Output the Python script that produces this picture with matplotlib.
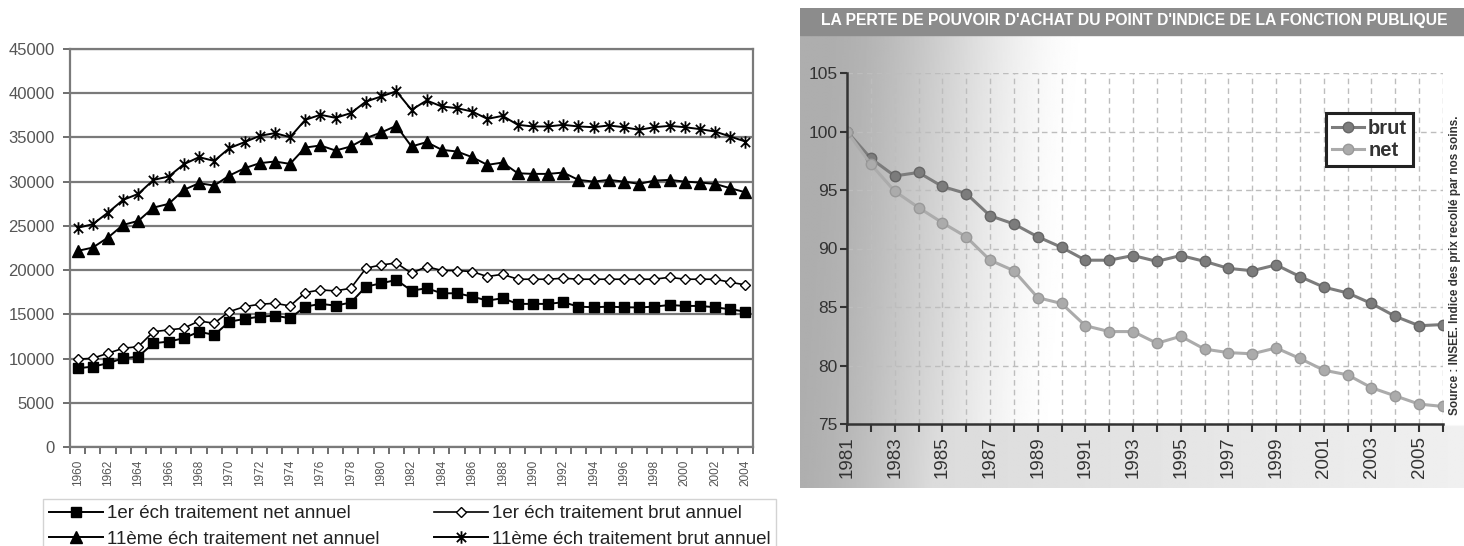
import numpy as np
import matplotlib
matplotlib.use("Agg")
import matplotlib.pyplot as plt
from matplotlib.path import Path

# ---- left chart data: annual salary (EUR) by year ----
years_left = list(range(1960, 2005))
net_1er = [8900, 9090, 9470, 10030, 10220, 11730, 11920, 12300, 13040, 12670,
           14170, 14480, 14740, 14850, 14560, 15870, 16180, 15990, 16330, 18130,
           18510, 18890, 17680, 17950, 17380, 17380, 17010, 16550, 16820, 16180,
           16180, 16180, 16370, 15870, 15800, 15870, 15800, 15780, 15870, 16060,
           15950, 15950, 15800, 15570, 15310]
brut_1er = [9920, 10030, 10600, 11160, 11350, 13040, 13240, 13430, 14250, 13990,
            15310, 15870, 16140, 16250, 15950, 17460, 17760, 17650, 17950, 20210,
            20590, 20800, 19650, 20400, 19950, 19950, 19830, 19270, 19530, 18970,
            18970, 18970, 19080, 18970, 18970, 18970, 18970, 18970, 18970, 19190,
            18970, 18970, 18970, 18630, 18330]
net_11 = [22170, 22550, 23680, 25110, 25570, 27070, 27490, 29070, 29830, 29560,
          30690, 31520, 32090, 32280, 32010, 33860, 34090, 33520, 33980, 34920,
          35560, 36320, 33980, 34470, 33600, 33410, 32770, 31900, 32160, 30950,
          30880, 30880, 31030, 30200, 30010, 30200, 30010, 29750, 30120, 30200,
          30010, 29900, 29750, 29260, 28800]
brut_11 = [24780, 25190, 26500, 27940, 28620, 30200, 30580, 31970, 32770, 32350,
           33790, 34470, 35180, 35490, 35030, 36990, 37560, 37220, 37750, 39060,
           39630, 40220, 38120, 39180, 38500, 38310, 37930, 37100, 37440, 36430,
           36240, 36240, 36430, 36240, 36160, 36350, 36160, 35860, 36160, 36310,
           36160, 35940, 35670, 35100, 34540]
legend_left = ["1er éch traitement net annuel", "11ème éch traitement net annuel",
               "1er éch traitement brut annuel", "11ème éch traitement brut annuel"]

# ---- right chart data: index (1981 = 100) ----
years_right = list(range(1981, 2007))
brut = [100, 97.7, 96.2, 96.5, 95.3, 94.7, 92.8, 92.1, 91.0, 90.1,
        89.0, 89.0, 89.4, 88.9, 89.4, 88.9, 88.3, 88.1, 88.6, 87.6,
        86.7, 86.2, 85.3, 84.2, 83.4, 83.5]
net = [100, 97.2, 94.9, 93.5, 92.2, 91.0, 89.0, 88.1, 85.8, 85.3,
       83.4, 82.9, 82.9, 81.9, 82.5, 81.4, 81.1, 81.0, 81.5, 80.6,
       79.6, 79.2, 78.1, 77.4, 76.7, 76.5]
title_right = "LA PERTE DE POUVOIR D'ACHAT DU POINT D'INDICE DE LA FONCTION PUBLIQUE"
source_right = "Source : INSEE. Indice des prix recollé par nos soins."

W, H = 1464, 546
fig = plt.figure(figsize=(W / 100, H / 100), dpi=100)
fig.patch.set_facecolor("white")
arial = ["Liberation Sans", "DejaVu Sans"]


def frac_box(x0, y0, x1, y1):
    # pixel box (top-left origin) -> figure fraction rect
    return [x0 / W, 1 - y1 / H, (x1 - x0) / W, (y1 - y0) / H]


# ================= left chart =================
ax1 = fig.add_axes(frac_box(70, 49, 753, 447))
x = np.arange(len(years_left))
star = Path([(-1, -1), (1, 1), (-1, 1), (1, -1), (0, -1.35), (0, 1.35)],
            [Path.MOVETO, Path.LINETO] * 3)

h1, = ax1.plot(x, net_1er, color="black", lw=1.4, marker="s", ms=7.5,
               mfc="black", mec="black")
h2, = ax1.plot(x, brut_1er, color="black", lw=1.2, marker="D", ms=5.5,
               mfc="white", mec="black", mew=1.0)
h3, = ax1.plot(x, net_11, color="black", lw=1.4, marker="^", ms=8.5,
               mfc="black", mec="black")
h4, = ax1.plot(x, brut_11, color="black", lw=1.4, marker=star, ms=9,
               mfc="none", mec="black", mew=1.3)

ax1.set_xlim(-0.5, len(years_left) - 0.5)
ax1.set_ylim(0, 45000)
ax1.set_yticks(np.arange(0, 45001, 5000))
ax1.yaxis.grid(True, color="#7a7a7a", lw=1.6)
ax1.set_axisbelow(True)
for s in ax1.spines.values():
    s.set_color("#7a7a7a")
    s.set_linewidth(1.6)
ax1.set_xticks(x[::2])
ax1.set_xticklabels([str(y) for y in years_left[::2]], rotation=90,
                    fontsize=8.5, color="#555555", family=arial)
ax1.set_xticks(np.arange(-0.5, len(years_left)), minor=True)
ax1.tick_params(axis="x", which="major", length=0, pad=9)
ax1.tick_params(axis="x", which="minor", length=5, width=1.2, color="#555555")
ax1.tick_params(axis="y", length=5, width=1.2, color="#555555", pad=6,
                labelsize=12, labelcolor="#555555")
for lab in ax1.get_yticklabels():
    lab.set_family(arial)

leg1 = fig.legend([h1, h3, h2, h4], legend_left, ncol=2, loc="upper left",
                  bbox_to_anchor=(34 / W, 1 - 490 / H), frameon=True,
                  fancybox=False, edgecolor="#c8c8c8", handlelength=2.9,
                  handletextpad=0.2, columnspacing=2.9, borderpad=0.3,
                  labelspacing=0.45, prop={"family": arial, "size": 13.5})
for t in leg1.get_texts():
    t.set_color("#222222")

# ================= right panel background =================
bg = fig.add_axes(frac_box(800, 8, 1464, 488), zorder=0)
gx = np.linspace(0, 1, 400)
gy = np.linspace(0, 1, 200)
GX, GY = np.meshgrid(gx, gy)
ramp = np.clip((GX + 0.06 * (GY - 0.5)) / 0.42, 0, 1)
shade = 0.68 + 0.32 * (3 * ramp ** 2 - 2 * ramp ** 3)
shade = np.where(GY > 0.87, np.minimum(shade, 0.84 + 0.1 * GX), shade)
bg.imshow(shade, cmap="gray", vmin=0, vmax=1, aspect="auto",
          extent=[0, 1, 0, 1], origin="upper", interpolation="bilinear")
bg.add_patch(plt.Rectangle((0, 1 - 27 / 480), 1, 27 / 480, color="#8c8c8c",
                           transform=bg.transAxes))
bg.text(0.503, 1 - 13 / 480, title_right, transform=bg.transAxes,
        ha="center", va="center", color="white", fontsize=11.3,
        fontweight="bold", family=arial)
bg.set_xticks([])
bg.set_yticks([])
for s in bg.spines.values():
    s.set_visible(False)

# ================= right chart =================
ax2 = fig.add_axes(frac_box(847, 73, 1443, 424), zorder=2)
ax2.patch.set_alpha(0)
ax2.plot(years_right, brut, color="#7c7c7c", lw=2.2, marker="o", ms=7.5,
         mfc="#7c7c7c", mec="#666666", label="brut")
ax2.plot(years_right, net, color="#ababab", lw=2.2, marker="o", ms=7.5,
         mfc="#ababab", mec="#999999", label="net")
ax2.set_xlim(1981, 2006)
ax2.set_ylim(75, 105)
ax2.set_yticks(np.arange(75, 106, 5))
ax2.set_xticks(years_right[::2])
ax2.set_xticks(years_right, minor=True)
ax2.set_xticklabels([str(y) for y in years_right[::2]], rotation=90,
                    fontsize=13.5, color="#333333", family=arial)
for lab in ax2.get_yticklabels():
    lab.set_family(arial)
ax2.tick_params(axis="y", length=5, width=1.5, color="#333333",
                labelsize=12.5, labelcolor="#333333", pad=2)
ax2.tick_params(axis="x", which="both", length=6, width=1.5,
                color="#333333", pad=3)
ax2.grid(True, which="both", color="#bdbdbd", lw=1, ls=(0, (4, 3)))
ax2.set_axisbelow(True)
ax2.spines["top"].set_visible(False)
ax2.spines["right"].set_visible(False)
for side in ("left", "bottom"):
    ax2.spines[side].set_color("#333333")
    ax2.spines[side].set_linewidth(1.8)

leg2 = ax2.legend(loc="upper right", bbox_to_anchor=(0.95, 0.886),
                  borderaxespad=0, fancybox=False, framealpha=1,
                  edgecolor="#222222", handlelength=1.6, handletextpad=0.2,
                  borderpad=0.3, labelspacing=0.15,
                  prop={"family": arial, "size": 14.5, "weight": "bold"})
leg2.get_frame().set_linewidth(2.2)
for t in leg2.get_texts():
    t.set_color("#333333")

fig.text(1455 / W, 1 - 265 / H, source_right, rotation=90, ha="center",
         va="center", fontsize=8.5, fontweight="bold", color="#333333",
         family=arial)

fig.savefig("out.png", dpi=100)
